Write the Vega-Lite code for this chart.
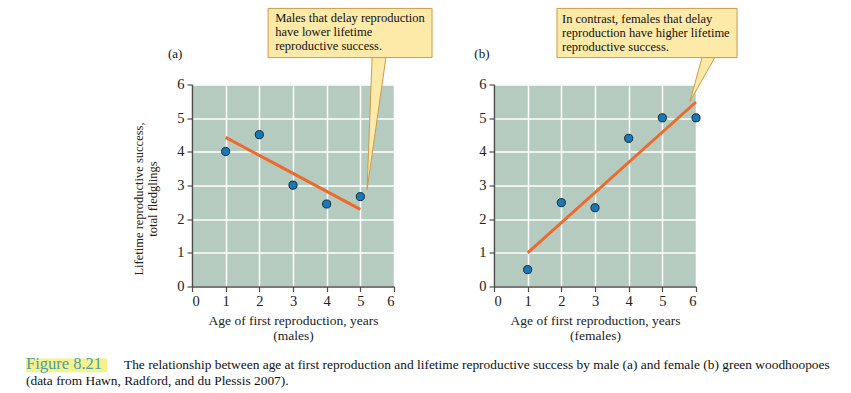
{
  "$schema": "https://vega.github.io/schema/vega-lite/v6.json",
  "background": "white",
  "padding": {"left": 26, "top": 7.5, "right": 0, "bottom": 0},
  "bounds": "flush",
  "spacing": 100,
  "datasets": {
    "one": [{}],
    "males": [
      {"age": 1, "success": 4.01},
      {"age": 2, "success": 4.51},
      {"age": 3, "success": 3.01},
      {"age": 4, "success": 2.45},
      {"age": 5, "success": 2.67}
    ],
    "malesFit": [
      {"age": 1, "success": 4.43},
      {"age": 5, "success": 2.29}
    ],
    "females": [
      {"age": 1, "success": 0.5},
      {"age": 2, "success": 2.49},
      {"age": 3, "success": 2.34},
      {"age": 4, "success": 4.4},
      {"age": 5, "success": 5.01},
      {"age": 6, "success": 5.01}
    ],
    "femalesFit": [
      {"age": 1, "success": 1.0},
      {"age": 6, "success": 5.48}
    ],
    "tailA": [
      {"i": 1, "x": 5.35, "y": 6.8},
      {"i": 2, "x": 5.2, "y": 2.88},
      {"i": 3, "x": 5.76, "y": 6.8}
    ],
    "tailB": [
      {"i": 1, "x": 6.18, "y": 6.8},
      {"i": 2, "x": 5.82, "y": 5.5},
      {"i": 3, "x": 6.56, "y": 6.8}
    ]
  },
  "config": {
    "view": {"stroke": null, "fill": "#b6cbbf"},
    "axis": {
      "domainColor": "#4d4d4d",
      "domainWidth": 1.5,
      "tickColor": "#4d4d4d",
      "tickSize": 5,
      "tickWidth": 1.2,
      "grid": true,
      "gridColor": "#ffffff",
      "gridWidth": 1.5,
      "labelFont": "Liberation Serif",
      "labelFontSize": 14.5,
      "labelColor": "#222222",
      "labelPadding": 3,
      "titleFont": "Liberation Serif",
      "titleFontSize": 12.5,
      "titleFontWeight": "normal",
      "titleColor": "#222222",
      "values": [0, 1, 2, 3, 4, 5, 6]
    },
    "axisX": {"titleFontSize": 13.5, "titleLineHeight": 15, "titlePadding": 5},
    "text": {"font": "Liberation Serif", "color": "#111111"}
  },
  "hconcat": [
    {
      "width": 202,
      "height": 202,
      "layer": [
        {
          "data": {"name": "one"},
          "mark": {"type": "rect", "fill": "#fde9a8", "stroke": "#cf9a45", "strokeWidth": 1, "clip": false},
          "encoding": {
            "x": {"datum": 2.26, "type": "quantitative", "scale": {"domain": [0, 6], "nice": false}, "axis": {"title": ["Age of first reproduction, years", "(males)"]}},
            "x2": {"datum": 7.13},
            "y": {"datum": 8.26, "type": "quantitative", "scale": {"domain": [0, 6], "nice": false}, "axis": {"title": ["Lifetime reproductive success,", "total fledglings"], "titleY": 114, "titlePadding": 17}},
            "y2": {"datum": 6.8}
          }
        },
        {
          "data": {"name": "tailA"},
          "mark": {"type": "line", "fill": "#fde9a8", "stroke": "#cf9a45", "strokeWidth": 1, "interpolate": "linear-closed", "clip": false},
          "encoding": {
            "x": {"field": "x", "type": "quantitative"},
            "y": {"field": "y", "type": "quantitative"},
            "order": {"field": "i"}
          }
        },
        {
          "data": {"name": "one"},
          "mark": {"type": "text", "text": "Males that delay reproduction\nhave lower lifetime\nreproductive success.", "lineBreak": "\n", "lineHeight": 14.2, "align": "left", "baseline": "middle", "fontSize": 12.5, "clip": false},
          "encoding": {"x": {"datum": 2.47}, "y": {"datum": 7.99}}
        },
        {
          "data": {"name": "one"},
          "mark": {"type": "text", "text": "(a)", "align": "center", "baseline": "middle", "fontSize": 13, "clip": false},
          "encoding": {"x": {"datum": -0.5}, "y": {"datum": 6.92}}
        },
        {
          "data": {"name": "malesFit"},
          "mark": {"type": "line", "color": "#ec6a2c", "strokeWidth": 3},
          "encoding": {
            "x": {"field": "age", "type": "quantitative"},
            "y": {"field": "success", "type": "quantitative"}
          }
        },
        {
          "data": {"name": "males"},
          "mark": {"type": "point", "filled": true, "fill": "#1a78b6", "stroke": "#14283a", "strokeWidth": 1, "size": 66, "opacity": 1, "shape": "circle"},
          "encoding": {
            "x": {"field": "age", "type": "quantitative"},
            "y": {"field": "success", "type": "quantitative"}
          }
        },
        {
          "data": {"name": "one"},
          "mark": {"type": "rect", "fill": "#f5f28c", "clip": false},
          "encoding": {"x": {"datum": -4.93}, "x2": {"datum": -2.52}, "y": {"datum": -2.14}, "y2": {"datum": -2.55}}
        },
        {
          "data": {"name": "one"},
          "mark": {"type": "text", "text": "Figure 8.21", "align": "left", "baseline": "alphabetic", "fontSize": 16.5, "color": "#4e9ca6", "clip": false},
          "encoding": {"x": {"datum": -4.93}, "y": {"datum": -2.45}}
        },
        {
          "data": {"name": "one"},
          "mark": {"type": "text", "text": "The relationship between age at first reproduction and lifetime reproductive success by male (a) and female (b) green woodhoopoes", "align": "left", "baseline": "alphabetic", "fontSize": 13.4, "clip": false},
          "encoding": {"x": {"datum": -2.02}, "y": {"datum": -2.465}}
        },
        {
          "data": {"name": "one"},
          "mark": {"type": "text", "text": "(data from Hawn, Radford, and du Plessis 2007).", "align": "left", "baseline": "alphabetic", "fontSize": 13.4, "clip": false},
          "encoding": {"x": {"datum": -4.93}, "y": {"datum": -2.92}}
        }
      ]
    },
    {
      "width": 202,
      "height": 202,
      "layer": [
        {
          "data": {"name": "one"},
          "mark": {"type": "rect", "fill": "#fde9a8", "stroke": "#cf9a45", "strokeWidth": 1, "clip": false},
          "encoding": {
            "x": {"datum": 1.87, "type": "quantitative", "scale": {"domain": [0, 6], "nice": false}, "axis": {"title": ["Age of first reproduction, years", "(females)"]}},
            "x2": {"datum": 7.22},
            "y": {"datum": 8.26, "type": "quantitative", "scale": {"domain": [0, 6], "nice": false}, "axis": {"title": null}},
            "y2": {"datum": 6.8}
          }
        },
        {
          "data": {"name": "tailB"},
          "mark": {"type": "line", "fill": "#fde9a8", "stroke": "#cf9a45", "strokeWidth": 1, "interpolate": "linear-closed", "clip": false},
          "encoding": {
            "x": {"field": "x", "type": "quantitative"},
            "y": {"field": "y", "type": "quantitative"},
            "order": {"field": "i"}
          }
        },
        {
          "data": {"name": "one"},
          "mark": {"type": "text", "text": "In contrast, females that delay\nreproduction have higher lifetime\nreproductive success.", "lineBreak": "\n", "lineHeight": 14.2, "align": "left", "baseline": "middle", "fontSize": 12.5, "clip": false},
          "encoding": {"x": {"datum": 2.02}, "y": {"datum": 7.96}}
        },
        {
          "data": {"name": "one"},
          "mark": {"type": "text", "text": "(b)", "align": "center", "baseline": "middle", "fontSize": 13, "clip": false},
          "encoding": {"x": {"datum": -0.36}, "y": {"datum": 6.92}}
        },
        {
          "data": {"name": "femalesFit"},
          "mark": {"type": "line", "color": "#ec6a2c", "strokeWidth": 3},
          "encoding": {
            "x": {"field": "age", "type": "quantitative"},
            "y": {"field": "success", "type": "quantitative"}
          }
        },
        {
          "data": {"name": "females"},
          "mark": {"type": "point", "filled": true, "fill": "#1a78b6", "stroke": "#14283a", "strokeWidth": 1, "size": 66, "opacity": 1, "shape": "circle", "clip": false},
          "encoding": {
            "x": {"field": "age", "type": "quantitative"},
            "y": {"field": "success", "type": "quantitative"}
          }
        }
      ]
    }
  ]
}
